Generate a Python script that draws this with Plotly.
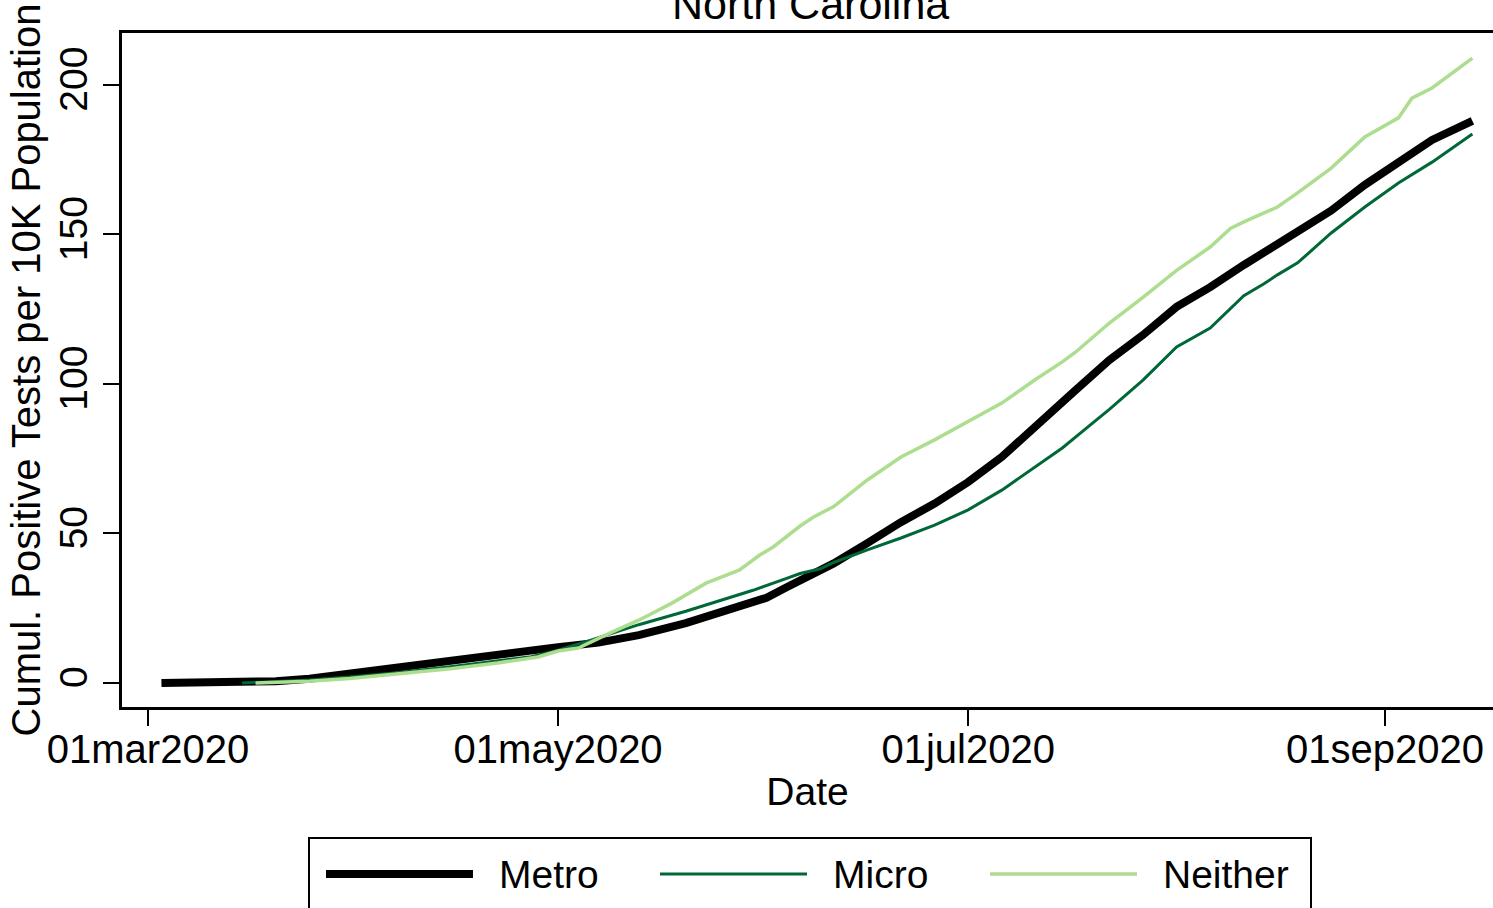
import plotly.graph_objects as go

# Cumulative positive tests per 10K population, North Carolina, by county type
metro_dates = [
    "2020-03-03", "2020-03-14", "2020-03-20", "2020-03-25", "2020-03-29", "2020-04-03",
    "2020-04-08", "2020-04-14", "2020-04-20", "2020-04-25", "2020-04-28", "2020-05-01",
    "2020-05-07", "2020-05-13", "2020-05-20", "2020-05-28", "2020-06-01", "2020-06-04",
    "2020-06-07", "2020-06-11", "2020-06-16", "2020-06-21", "2020-06-26", "2020-07-01",
    "2020-07-06", "2020-07-11", "2020-07-15", "2020-07-17", "2020-07-22", "2020-07-27",
    "2020-08-01", "2020-08-06", "2020-08-11", "2020-08-14", "2020-08-16", "2020-08-19",
    "2020-08-24", "2020-08-29", "2020-09-03", "2020-09-08", "2020-09-14",
]
metro_vals = [
    0, 0, 0.6, 1.4, 2.6, 3.8,
    5.0, 7.0, 9.0, 10.3, 11.3, 12.0,
    13.5, 16.0, 20.0, 25.5, 28.5, 32.0,
    35.5, 40.0, 46.8, 53.8, 60.0, 67.2,
    75.6, 86.0, 94.6, 98.0, 108.0, 116.4,
    125.8, 132.4, 139.8, 144.0, 146.5, 150.5,
    158.0, 166.6, 174.2, 181.6, 188.0,
]

micro_dates = [
    "2020-03-15", "2020-03-20", "2020-03-25", "2020-03-31", "2020-04-07", "2020-04-15",
    "2020-04-22", "2020-04-27", "2020-05-01", "2020-05-06", "2020-05-13", "2020-05-20",
    "2020-05-25", "2020-05-30", "2020-06-04", "2020-06-06", "2020-06-09", "2020-06-11",
    "2020-06-16", "2020-06-21", "2020-06-26", "2020-07-01", "2020-07-06", "2020-07-11",
    "2020-07-15", "2020-07-19", "2020-07-22", "2020-07-27", "2020-08-01", "2020-08-06",
    "2020-08-11", "2020-08-14", "2020-08-16", "2020-08-19", "2020-08-24", "2020-08-29",
    "2020-09-03", "2020-09-08", "2020-09-14",
]
micro_vals = [
    0, 0.4, 1.0, 2.0, 3.4, 5.4,
    7.4, 8.8, 11.0, 14.4, 19.5, 24.0,
    27.5, 31.0, 35.0, 36.6, 38.2, 40.3,
    44.5, 48.5, 52.8, 57.9, 64.5, 72.2,
    78.6, 86.0, 91.5, 101.3, 112.4, 118.7,
    129.5, 133.5, 136.5, 140.5, 150.5, 159.2,
    167.2, 174.2, 183.6,
]

neither_dates = [
    "2020-03-17", "2020-03-25", "2020-03-31", "2020-04-07", "2020-04-15", "2020-04-22",
    "2020-04-28", "2020-05-01", "2020-05-04", "2020-05-09", "2020-05-13", "2020-05-18",
    "2020-05-23", "2020-05-28", "2020-05-31", "2020-06-02", "2020-06-06", "2020-06-08",
    "2020-06-11", "2020-06-16", "2020-06-21", "2020-06-26", "2020-07-01", "2020-07-06",
    "2020-07-11", "2020-07-15", "2020-07-17", "2020-07-22", "2020-07-27", "2020-08-01",
    "2020-08-06", "2020-08-09", "2020-08-11", "2020-08-14", "2020-08-16", "2020-08-19",
    "2020-08-24", "2020-08-29", "2020-09-03", "2020-09-05", "2020-09-08", "2020-09-14",
]
neither_vals = [
    0, 0.6, 1.5, 3.0, 4.8, 6.7,
    8.7, 10.7, 11.7, 17.0, 21.0, 26.8,
    33.4, 37.8, 42.8, 45.5, 52.5, 55.5,
    59.0, 67.9, 75.6, 81.3, 87.3, 93.6,
    101.5, 107.4, 110.7, 120.4, 129.0, 138.0,
    145.8, 152.0, 154.2, 157.2, 159.2, 163.9,
    172.2, 182.6, 189.0, 195.6, 199.0, 209.0,
]

series_names = ["Metro", "Micro", "Neither"]
series_colors = ["#000000", "#006837", "#addd8e"]
series_widths = [8, 3, 3.5]

x_tick_vals = ["2020-03-01", "2020-05-01", "2020-07-01", "2020-09-01"]
x_tick_text = ["01mar2020", "01may2020", "01jul2020", "01sep2020"]
y_tick_vals = [0, 50, 100, 150, 200]
y_tick_text = ["0", "50", "100", "150", "200"]

FONT = "Liberation Sans, Arial, Helvetica, sans-serif"
W, H = 1493, 908
ML, MR, MT, MB = 122, 0, 33, 201
PW, PH = W - ML - MR, H - MT - MB


def px_x(px):
    return (px - ML) / PW


def px_y(py):
    return (H - MB - py) / PH


fig = go.Figure()
for name, xs, ys, col, lw in zip(
    series_names,
    [metro_dates, micro_dates, neither_dates],
    [metro_vals, micro_vals, neither_vals],
    series_colors,
    series_widths,
):
    fig.add_trace(go.Scatter(
        x=xs, y=ys, mode="lines", name=name,
        line=dict(color=col, width=lw),
        showlegend=False,
    ))

# Boxed legend below the plot
shapes = [dict(
    type="rect", xref="paper", yref="paper",
    x0=px_x(309), x1=px_x(1311), y0=px_y(920), y1=px_y(838),
    line=dict(color="black", width=2), fillcolor="rgba(0,0,0,0)",
)]
annotations = []
sample_x = [(326, 473), (660, 807), (990, 1137)]
text_x = [497, 831, 1161]
for name, col, lw, (a, b), tx in zip(series_names, series_colors, series_widths, sample_x, text_x):
    shapes.append(dict(
        type="line", xref="paper", yref="paper",
        x0=px_x(a), x1=px_x(b), y0=px_y(874), y1=px_y(874),
        line=dict(color=col, width=lw),
    ))
    annotations.append(dict(
        text=name, xref="paper", yref="paper", x=px_x(tx), y=px_y(874),
        xanchor="left", yanchor="middle", showarrow=False,
        font=dict(family=FONT, size=39, color="black"),
    ))

annotations.append(dict(
    text="North Carolina", xref="paper", yref="paper", x=px_x(810), y=px_y(4),
    xanchor="center", yanchor="middle", showarrow=False,
    font=dict(family=FONT, size=43, color="black"),
))

fig.update_layout(
    width=W, height=H,
    margin=dict(l=ML, r=MR, t=MT, b=MB, autoexpand=False),
    paper_bgcolor="white", plot_bgcolor="white",
    font=dict(family=FONT, size=39, color="black"),
    shapes=shapes, annotations=annotations,
    xaxis=dict(
        type="date",
        range=["2020-02-26 03:12", "2020-09-17 01:34"],
        tickmode="array", tickvals=x_tick_vals, ticktext=x_tick_text,
        ticks="outside", ticklen=16, tickwidth=2, tickcolor="black",
        ticklabelstandoff=-11,
        showline=True, linecolor="black", linewidth=3, mirror=True,
        showgrid=False, zeroline=False,
        tickfont=dict(family=FONT, size=40),
        title=dict(text="Date", font=dict(family=FONT, size=39), standoff=8),
    ),
    yaxis=dict(
        range=[-8.03, 217.39],
        tickmode="array", tickvals=y_tick_vals, ticktext=y_tick_text,
        tickangle=-90,
        ticks="outside", ticklen=16, tickwidth=2, tickcolor="black",
        showline=True, linecolor="black", linewidth=3,
        showgrid=False, zeroline=False,
        tickfont=dict(family=FONT, size=39),
        title=dict(text="Cumul. Positive Tests per 10K Population",
                   font=dict(family=FONT, size=40), standoff=0),
    ),
)

fig.write_html("out.html", config={"displayModeBar": False})
